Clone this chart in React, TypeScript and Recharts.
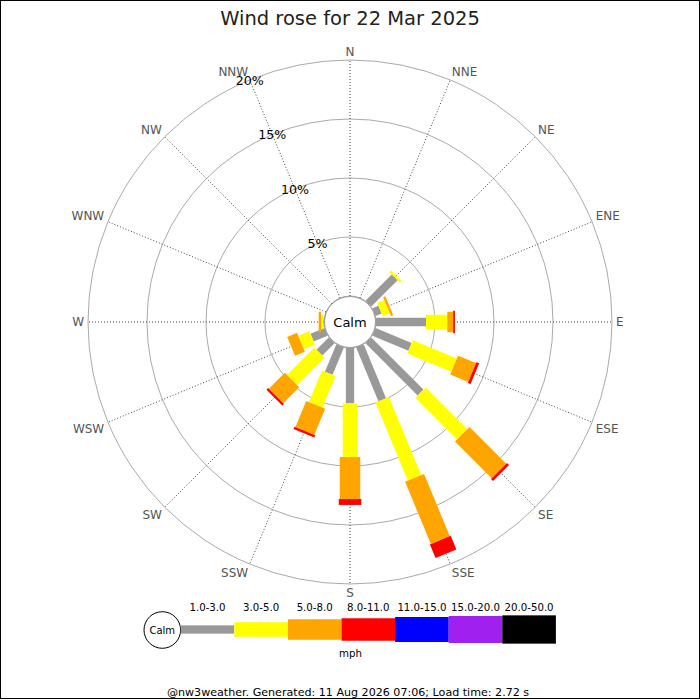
import React from "react";
import {
  PolarAngleAxis,
  PolarGrid,
  PolarRadiusAxis,
  RadialBar,
  RadialBarChart,
} from "recharts";

const DIRECTIONS = [
  "N", "NNE", "NE", "ENE", "E", "ESE", "SE", "SSE",
  "S", "SSW", "SW", "WSW", "W", "WNW", "NW", "NNW",
];
const BEARINGS = [0, 22.5, 45, 67.5, 90, 112.5, 135, 157.5, 180, 202.5, 225, 247.5, 270, 292.5, 315, 337.5];

// share of the day (%) per direction, one array per speed bin (mph)
const SPEED_1_3 = [0, 0, 3.15, 0.55, 4.24, 3.3, 6.25, 4.93, 4.69, 2.5, 1.47, 1.27, 0.05, 0, 0, 0];
const SPEED_3_5 = [0, 0, 0.2, 0.65, 1.8, 4.05, 5.0, 7.17, 4.55, 2.9, 3.28, 1.03, 0.2, 0, 0, 0];
const SPEED_5_8 = [0, 0, 0, 0.2, 0.5, 1.65, 4.4, 5.7, 3.56, 2.4, 1.91, 0.9, 0.2, 0, 0, 0];
const SPEED_8_11 = [0, 0, 0, 0, 0.15, 0.25, 0.25, 1.25, 0.5, 0.2, 0.2, 0, 0, 0, 0, 0];
const SPEED_11_15 = [0, 0, 0, 0, 0, 0, 0, 0, 0, 0, 0, 0, 0, 0, 0, 0];
const SPEED_15_20 = [0, 0, 0, 0, 0, 0, 0, 0, 0, 0, 0, 0, 0, 0, 0, 0];
const SPEED_20_50 = [0, 0, 0, 0, 0, 0, 0, 0, 0, 0, 0, 0, 0, 0, 0, 0];

const BIN_LABELS = ["1.0-3.0", "3.0-5.0", "5.0-8.0", "8.0-11.0", "11.0-15.0", "15.0-20.0", "20.0-50.0"];
const PCT_TICKS = [0, 5, 10, 15, 20];

const BIN_SERIES = [SPEED_1_3, SPEED_3_5, SPEED_5_8, SPEED_8_11, SPEED_11_15, SPEED_15_20, SPEED_20_50];
const BIN_COLORS = ["#999999", "#ffff00", "#ffa500", "#ff0000", "#0000ff", "#a020f0", "#000000"];
const BIN_WIDTHS = [8.3, 14.5, 20.5, 22.5, 25, 27, 28.3];

const FONT = "'DejaVu Sans', Verdana, sans-serif";
const RAD = Math.PI / 180;

const rows = DIRECTIONS.map((dir, i) => {
  const row: Record<string, string | number> = { dir, deg: BEARINGS[i] };
  BIN_SERIES.forEach((s, k) => (row[`b${k}`] = s[i]));
  return row;
});

// a wind-rose bar is a straight strip of fixed width, not a wedge
const stripShape = (width: number, color: string) => (props: any) => {
  const { cx, cy, innerRadius, outerRadius, startAngle, endAngle } = props;
  if (!(outerRadius - innerRadius > 0.01)) return <g />;
  const mid = ((startAngle + endAngle) / 2) * RAD;
  const ux = Math.cos(mid);
  const uy = -Math.sin(mid);
  const px = -uy * (width / 2);
  const py = ux * (width / 2);
  const pts = [
    [cx + ux * innerRadius + px, cy + uy * innerRadius + py],
    [cx + ux * outerRadius + px, cy + uy * outerRadius + py],
    [cx + ux * outerRadius - px, cy + uy * outerRadius - py],
    [cx + ux * innerRadius - px, cy + uy * innerRadius - py],
  ];
  return <polygon points={pts.map((p) => p.join(",")).join(" ")} fill={color} />;
};

const DirTick = (props: any) => {
  const { x, y, payload } = props;
  const a = payload.coordinate * RAD;
  const c = Math.cos(a);
  const s = Math.sin(a);
  const anchor = Math.abs(c) < 0.01 ? "middle" : c > 0 ? "start" : "end";
  const dy = Math.abs(s) < 0.01 ? 4.4 : s > 0 ? 0 : 9;
  const label = DIRECTIONS[BEARINGS.indexOf(payload.value)];
  return (
    <text x={x} y={y + dy} textAnchor={anchor} fill="#555" fontSize={12} fontFamily={FONT}>
      {label}
    </text>
  );
};

const PctTick = (props: any) => {
  const { x, y, payload } = props;
  if (payload.value === 0) return <g />;
  return (
    <text x={x} y={y + 4.6} textAnchor="middle" fill="#000" fontSize={12.6} fontFamily={FONT}>
      {`${payload.value}%`}
    </text>
  );
};

function Legend() {
  const x0 = 180.7;
  const w = 53.6;
  const cy = 629.5;
  return (
    <g fontFamily={FONT}>
      <circle cx={162.3} cy={630} r={18.3} fill="#fff" stroke="#000" strokeWidth={1} />
      <text x={162.3} y={633.6} textAnchor="middle" fontSize={10} fill="#000">
        Calm
      </text>
      {BIN_LABELS.map((label, k) => (
        <g key={label}>
          <rect
            x={x0 + k * w}
            y={cy - BIN_WIDTHS[k] / 2}
            width={w}
            height={BIN_WIDTHS[k]}
            fill={BIN_COLORS[k]}
          />
          <text x={x0 + k * w + w / 2} y={611} textAnchor="middle" fontSize={10.2} fill="#000">
            {label}
          </text>
        </g>
      ))}
      <text x={350.5} y={657} textAnchor="middle" fontSize={10.2} fill="#000">
        mph
      </text>
    </g>
  );
}

export default function App() {
  return (
    <div style={{ position: "absolute", left: 0, top: 0, width: 700, height: 700, background: "#fff" }}>
      <RadialBarChart
        width={700}
        height={700}
        data={rows}
        layout="centric"
        cx={350}
        cy={322}
        innerRadius={26}
        outerRadius={262}
        startAngle={90}
        endAngle={-270}
        margin={{ top: 0, right: 0, bottom: 0, left: 0 }}
      >
        <PolarGrid gridType="circle" radialLines={false} stroke="#aaa" strokeWidth={1} />
        <PolarGrid gridType="circle" polarRadius={[]} stroke="#444" strokeDasharray="1 2" strokeWidth={1} />
        <PolarAngleAxis
          dataKey="deg"
          type="number"
          domain={[0, 360]}
          ticks={BEARINGS}
          axisLine={false}
          tickLine={false}
          tickSize={4}
          tick={DirTick}
        />
        <PolarRadiusAxis
          type="number"
          domain={[0, 20]}
          ticks={PCT_TICKS}
          angle={112.5}
          axisLine={false}
          tickLine={false}
          tick={PctTick}
        />
        {BIN_SERIES.map((_, k) => (
          <RadialBar
            key={k}
            dataKey={`b${k}`}
            stackId="speed"
            isAnimationActive={false}
            shape={stripShape(BIN_WIDTHS[k], BIN_COLORS[k])}
          />
        ))}
      </RadialBarChart>
      <svg
        width={700}
        height={700}
        style={{ position: "absolute", left: 0, top: 0, pointerEvents: "none" }}
      >
        <rect x={0.5} y={0.5} width={699} height={698} fill="none" stroke="#000" strokeWidth={1} />
        <text x={350} y={25} textAnchor="middle" fontSize={19.5} fontFamily={FONT} fill="#222">
          Wind rose for 22 Mar 2025
        </text>
        <circle cx={350} cy={322} r={25.5} fill="#fff" stroke="#999" strokeWidth={1} />
        <text x={350} y={326.6} textAnchor="middle" fontSize={13} fontFamily={FONT} fill="#000">
          Calm
        </text>
        <Legend />
        <text x={348} y={696} textAnchor="middle" fontSize={11.1} fontFamily={FONT} fill="#000">
          @nw3weather. Generated: 11 Aug 2026 07:06; Load time: 2.72 s
        </text>
      </svg>
    </div>
  );
}
